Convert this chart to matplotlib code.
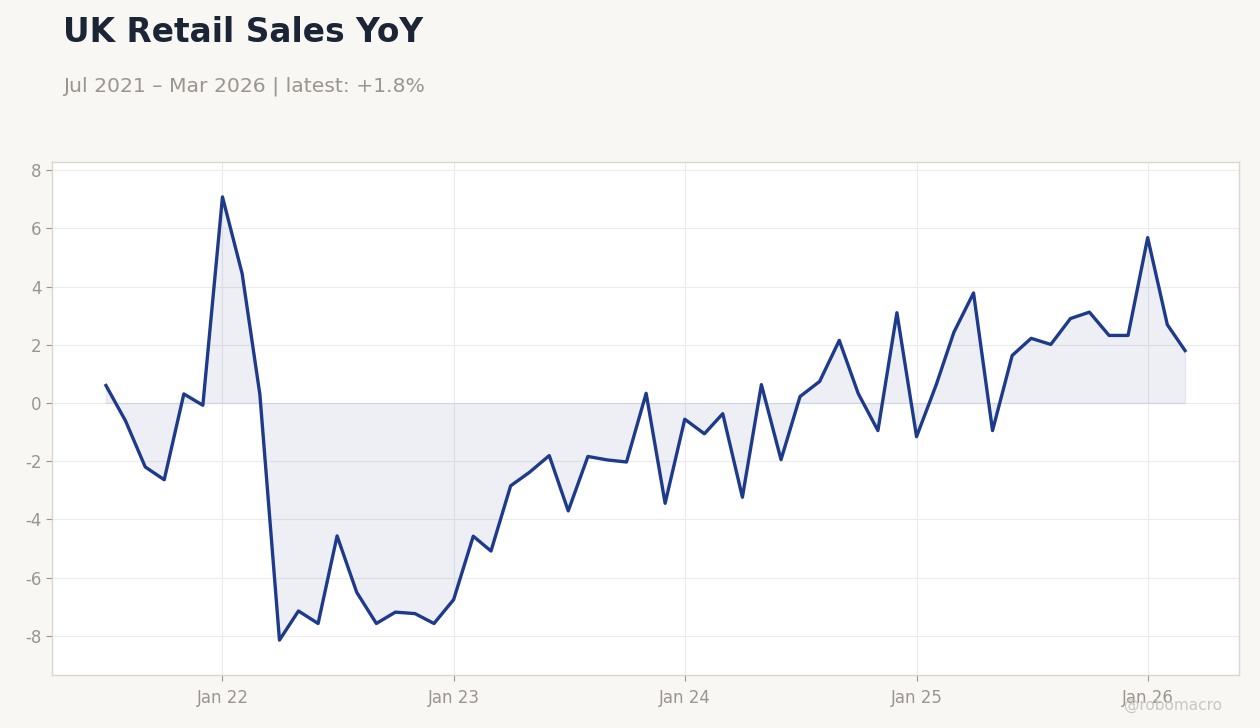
import numpy as np
import pandas as pd
import matplotlib
matplotlib.use('Agg')
import matplotlib.pyplot as plt
import matplotlib.dates as mdates

# Данные: розничные продажи UK, г/г, %
months = pd.date_range('2021-07-01', '2026-03-01', freq='MS')
yoy = [0.6, -0.62, -2.2, -2.64, 0.31, -0.08,
       7.08, 4.45, 0.3, -8.15, -7.15, -7.58, -4.57, -6.51, -7.58, -7.19, -7.24, -7.58,
       -6.76, -4.58, -5.09, -2.85, -2.38, -1.81, -3.71, -1.84, -1.96, -2.03, 0.33, -3.45,
       -0.56, -1.06, -0.37, -3.24, 0.63, -1.95, 0.22, 0.74, 2.15, 0.32, -0.95, 3.1,
       -1.16, 0.62, 2.43, 3.78, -0.95, 1.63, 2.22, 2.01, 2.9, 3.12, 2.32, 2.32,
       5.68, 2.69, 1.8]

title = 'UK Retail Sales YoY'
subtitle = 'Jul 2021 – Mar 2026 | latest: +1.8%'
watermark = '@robomacro'

line_color = '#1e3a8a'
grey = '#9a958f'
bg = '#f8f7f4'

plt.rcParams['axes.unicode_minus'] = False
plt.rcParams['font.family'] = 'DejaVu Sans'

fig = plt.figure(figsize=(12.6, 7.28), dpi=100, facecolor=bg)
ax = fig.add_axes([52 / 1260, 53 / 728, 1187 / 1260, 513 / 728])
ax.set_facecolor('white')

y = np.array(yoy)
# заливка до нуля + тонкая кромка, как в оригинале
ax.fill_between(months, 0, y, color=line_color, alpha=0.08, linewidth=1.0)
ax.plot(months, y, color=line_color, linewidth=2.4)

ax.set_ylim(y.min() - 1.2, y.max() + 1.2)
ax.set_yticks([-8, -6, -4, -2, 0, 2, 4, 6, 8])
ax.xaxis.set_major_locator(mdates.YearLocator(month=1))
ax.xaxis.set_major_formatter(mdates.DateFormatter('%b %y'))

ax.grid(True, color='#ebebeb', linewidth=0.8)
ax.set_axisbelow(True)
for s in ax.spines.values():
    s.set_color('#ddd6cc')
    s.set_linewidth(1.0)
ax.tick_params(colors=grey, labelsize=12, length=4, width=0.8)
ax.tick_params(axis='x', pad=6)

fig.text(63 / 1260, 1 - 42 / 728, title, fontsize=23.7, fontweight='bold',
         color='#1c2536', va='baseline')
fig.text(63 / 1260, 1 - 91 / 728, subtitle, fontsize=14.7, color=grey, va='baseline')
fig.text(1222 / 1260, 1 - 710 / 728, watermark, fontsize=11, color='#cbc6c0',
         ha='right', va='baseline')

fig.savefig('out.png', dpi=100, facecolor=bg)
